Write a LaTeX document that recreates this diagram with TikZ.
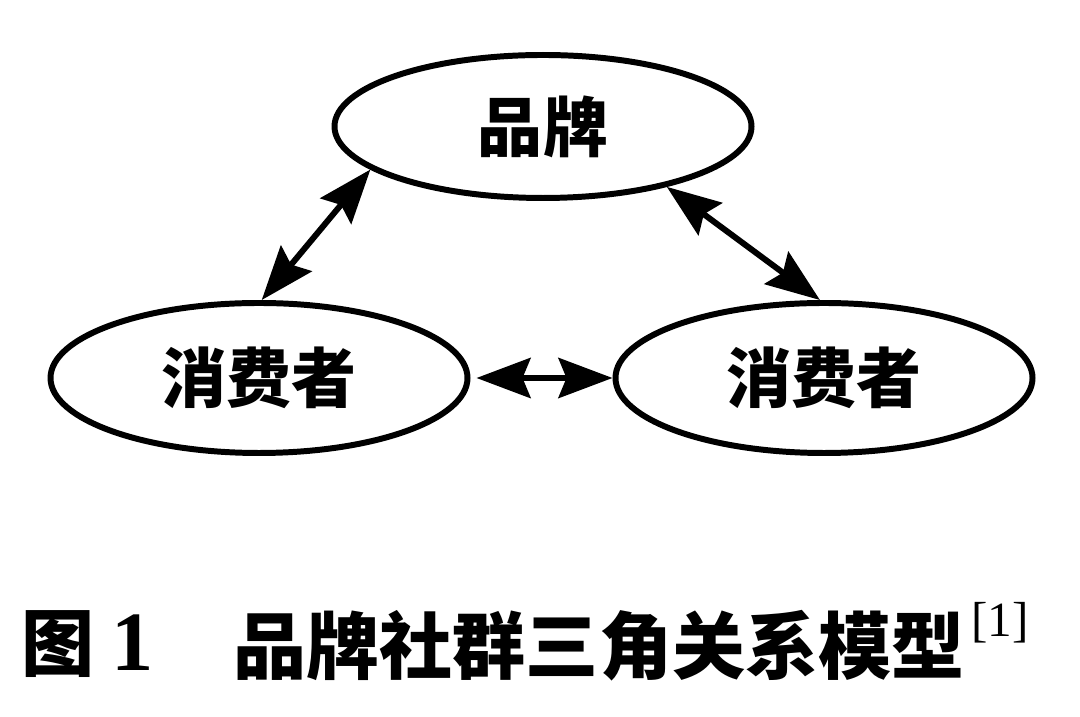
\documentclass[tikz,border=0pt]{standalone}
\usepackage{fontspec}
\setmainfont{Liberation Serif}
\newfontfamily\cjk{Noto Sans CJK SC}
\usepackage{tikz}
\usetikzlibrary{shapes.geometric,arrows.meta,positioning,calc}
\tikzset{
  party/.style={ellipse,draw=black,line width=1.7pt,minimum width=4.17cm,
                minimum height=1.5cm,inner sep=0pt,
                font=\cjk\bfseries\fontsize{18.5pt}{20pt}\selectfont},
  biarr/.style={{Stealth[length=5.4mm,width=4mm,inset=0.8mm]}-{Stealth[length=5.4mm,width=4mm,inset=0.8mm]},
                line width=1.7pt,draw=black},
  capcjk/.style={inner sep=0pt,font=\cjk\bfseries\fontsize{20.8pt}{22pt}\selectfont},
}

\begin{document}
\begin{tikzpicture}[x=1cm,y=1cm]
  \useasboundingbox (0,0) rectangle (10.8,-7.17);
  % --- 三个主体 ---
  \node[party,minimum height=1.43cm] (brand) at (5.43,-1.265) {品牌};
  \node[party] (consL) at (2.59,-3.78) {消费者};
  \node[party] (consR) at (8.24,-3.78) {消费者};
  % --- 双向关系 ---
  \draw[biarr] (brand.194) -- (consL.88);
  \draw[biarr] (brand.334) -- (consR.93);
  \draw[biarr,shorten <=0.6mm] (consL.east) -- (consR.west);
  % --- 图题 ---
  \node[capcjk] (figtag) at (0.58,-6.44) {图};
  \node[inner sep=0pt,font=\bfseries\fontsize{24pt}{26pt}\selectfont] (fignum) at (1.33,-6.43) {1};
  \node[capcjk] (figtitle) at (5.99,-6.46) {品牌社群三角关系模型};
  \node[inner sep=0pt,font=\fontsize{14pt}{16pt}\selectfont] (figref) at (10.0,-6.23) {[1]};
\end{tikzpicture}
\end{document}
